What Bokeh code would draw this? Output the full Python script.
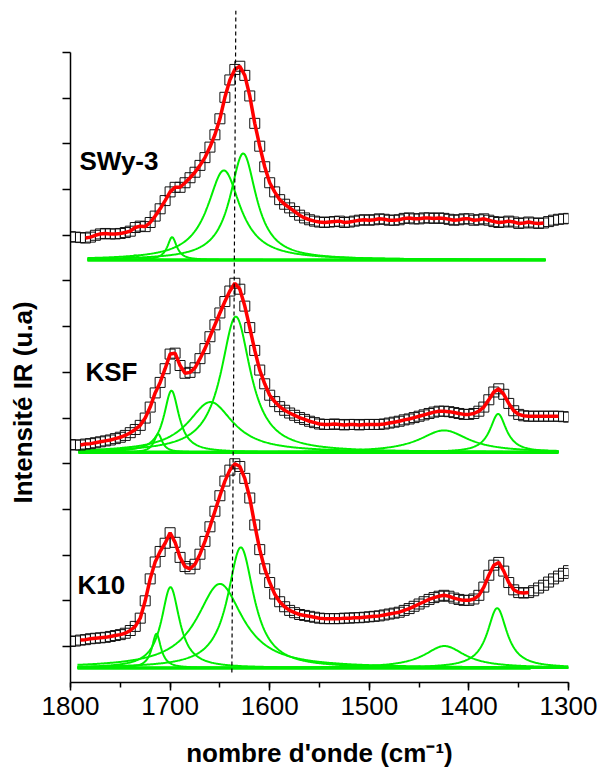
import numpy as np
from bokeh.plotting import figure
from bokeh.models import Range1d, SingleIntervalTicker, FixedTicker, Label, Title
from bokeh.embed import file_html
from bokeh.resources import INLINE

# ---------------- data ----------------
wavenumber = list(range(1800, 1295, -5))  # 1800 ... 1300 cm-1

swy3 = [8.97, 8.96, 8.95, 8.94, 8.96, 9.00, 9.03, 9.04, 9.03, 9.03,
        9.04, 9.06, 9.09, 9.17, 9.20, 9.19, 9.28, 9.42, 9.58, 9.76,
        9.95, 10.05, 10.05, 10.15, 10.26, 10.38, 10.53, 10.70, 10.93, 11.20,
        11.55, 12.02, 12.40, 12.63, 12.70, 12.50, 12.05, 11.45, 10.95, 10.50,
        10.15, 9.95, 9.78, 9.68, 9.60, 9.52, 9.44, 9.38, 9.34, 9.31,
        9.29, 9.28, 9.29, 9.30, 9.31, 9.28, 9.29, 9.31, 9.33, 9.34,
        9.33, 9.34, 9.36, 9.35, 9.33, 9.33, 9.34, 9.37, 9.38, 9.36,
        9.36, 9.38, 9.38, 9.37, 9.38, 9.37, 9.35, 9.33, 9.34, 9.36,
        9.36, 9.33, 9.34, 9.36, 9.33, 9.30, 9.28, 9.29, 9.31, 9.29,
        9.26, 9.27, 9.29, 9.27, 9.26, 9.27, 9.30, 9.33, 9.35, 9.36,
        9.37]

ksf = [4.42, 4.41, 4.41, 4.43, 4.44, 4.46, 4.48, 4.50, 4.52, 4.55,
       4.58, 4.62, 4.68, 4.75, 4.84, 5.00, 5.24, 5.55, 5.78, 6.08,
       6.40, 6.42, 6.15, 5.98, 6.00, 6.10, 6.30, 6.52, 6.78, 7.04,
       7.30, 7.55, 7.78, 7.95, 7.82, 7.45, 6.98, 6.48, 6.05, 5.75,
       5.50, 5.36, 5.25, 5.17, 5.11, 5.06, 5.01, 4.97, 4.93, 4.90,
       4.87, 4.86, 4.86, 4.87, 4.86, 4.85, 4.86, 4.86, 4.85, 4.86,
       4.86, 4.86, 4.86, 4.87, 4.89, 4.91, 4.93, 4.96, 4.98, 5.01,
       5.04, 5.07, 5.10, 5.13, 5.15, 5.15, 5.14, 5.12, 5.10, 5.08,
       5.08, 5.10, 5.15, 5.24, 5.40, 5.57, 5.64, 5.52, 5.32, 5.16,
       5.08, 5.05, 5.04, 5.04, 5.04, 5.04, 5.04, 5.04, 5.04, 5.03,
       5.02]

k10 = [0.11, 0.12, 0.14, 0.15, 0.17, 0.18, 0.19, 0.20, 0.22, 0.24,
       0.26, 0.29, 0.35, 0.44, 0.62, 1.00, 1.48, 1.85, 2.08, 2.26,
       2.49, 2.28, 1.95, 1.75, 1.70, 1.80, 2.02, 2.30, 2.62, 2.96,
       3.30, 3.62, 3.86, 4.00, 3.94, 3.68, 3.25, 2.66, 2.12, 1.70,
       1.40, 1.15, 0.98, 0.87, 0.79, 0.74, 0.70, 0.68, 0.66, 0.64,
       0.62, 0.61, 0.61, 0.61, 0.61, 0.62, 0.62, 0.63, 0.63, 0.64,
       0.65, 0.66, 0.67, 0.69, 0.71, 0.73, 0.75, 0.79, 0.83, 0.88,
       0.93, 0.98, 1.03, 1.07, 1.10, 1.12, 1.10, 1.06, 1.03, 1.01,
       1.01, 1.04, 1.12, 1.30, 1.56, 1.78, 1.84, 1.65, 1.40, 1.24,
       1.18, 1.17, 1.18, 1.22, 1.28, 1.34, 1.41, 1.48, 1.54, 1.60,
       1.66]

sample_names = ["SWy-3", "KSF", "K10"]

# fitted range of the red curve (cm-1)
fit_start = [1785, 1790, 1790]
fit_end = [1325, 1310, 1340]

# green components: baseline level, centres, amplitudes, half widths
comp_baseline = [8.46, 4.25, -0.47]
comp_centers = [[1626.6, 1646.0, 1698.0, 1735.0],
                [1634.0, 1659.4, 1698.6, 1712.0, 1425.0, 1370.6],
                [1629.0, 1650.0, 1699.6, 1713.7, 1424.5, 1371.6]]
comp_heights = [[2.33, 1.96, 0.50, 0.10],
                [2.97, 1.10, 1.35, 0.40, 0.48, 0.84],
                [2.64, 1.84, 1.77, 0.75, 0.48, 1.31]]
comp_hwhm = [[16, 20, 5.7, 4],
             [18, 27.6, 9.2, 5, 30, 10],
             [16, 28, 11, 5.5, 25, 12]]
comp_start = [1783, 1792, 1793]
comp_end = [1323, 1310, 1300]
base_end = [1323, 1310, 1338]

ref_line_x = [1634, 1638]

# ---------------- layout constants ----------------
Y_BOTTOM, Y_TOP = -0.788, 13.92
AXIS_TOP = 13.0
FONT = "Liberation Sans"
GREEN = "#00ee00"

p = figure(width=598, height=771,
           x_range=Range1d(1800, 1300), y_range=Range1d(Y_BOTTOM, Y_TOP),
           output_backend="svg", toolbar_location=None,
           min_border_left=70, min_border_right=30,
           min_border_top=10, min_border_bottom=89)
p.outline_line_color = None
p.xgrid.visible = False
p.ygrid.visible = False
p.background_fill_color = "white"
p.border_fill_color = "white"

# x axis
xa = p.xaxis[0]
xa.ticker = SingleIntervalTicker(interval=100, num_minor_ticks=2)
xa.axis_line_width = 1.5
xa.major_tick_line_width = 1.5
xa.minor_tick_line_width = 1.5
xa.major_tick_out = 8
xa.major_tick_in = 0
xa.minor_tick_out = 5
xa.minor_tick_in = 0
xa.major_label_text_font = FONT
xa.major_label_text_font_size = "26px"
xa.major_label_text_color = "black"
xa.major_label_standoff = 6
xa.axis_label = "nombre d'onde (cm⁻¹)"
xa.axis_label_text_font = FONT
xa.axis_label_text_font_size = "26px"
xa.axis_label_text_font_style = "bold"
xa.axis_label_text_color = "black"
xa.axis_label_standoff = 20

# y axis (no tick labels in the reference: blank labels keep the title's spacing)
ya = p.yaxis[0]
ya.ticker = FixedTicker(ticks=list(range(0, 14)), minor_ticks=[])
ya.bounds = (Y_BOTTOM, AXIS_TOP)
ya.axis_line_width = 1.5
ya.major_tick_line_width = 1.5
ya.major_tick_out = 8
ya.major_tick_in = 0
ya.major_label_overrides = {i: " " for i in range(0, 14)}
ya.major_label_text_font_size = "12px"
ya.major_label_text_color = "black"
ya.major_label_standoff = 12

p.add_layout(Title(text="Intensité IR (u.a)", align="left", offset=179,
                   vertical_align="top",
                   text_font=FONT, text_font_size="26px", text_font_style="bold",
                   text_color="black"), "left")

x = np.array(wavenumber, dtype=float)
series = [swy3, ksf, k10]

for i, ys in enumerate(series):
    ys = np.array(ys)
    # green components
    xs = np.linspace(comp_start[i], comp_end[i], 600)
    b = comp_baseline[i]
    p.line([comp_start[i], base_end[i]], [b, b], line_color=GREEN, line_width=3.5)
    for c, a, w in zip(comp_centers[i], comp_heights[i], comp_hwhm[i]):
        p.line(xs, b + a / (1 + ((xs - c) / w) ** 2), line_color=GREEN, line_width=2)
    # measured spectrum
    p.scatter(x, ys, marker="square", size=10, fill_alpha=0,
              line_color="#111111", line_width=1)
    # fit
    m = (x <= fit_start[i]) & (x >= fit_end[i])
    p.line(x[m], ys[m], line_color="#ff0000", line_width=3.5)

# vertical dashed reference line
p.line(ref_line_x, [Y_TOP, -0.6], line_color="black", line_width=1.2, line_dash="4 3")

# sample names
name_pos = [(1791, 10.63), (1785, 6.0), (1793, 1.35)]
for name, (lx, ly) in zip(sample_names, name_pos):
    p.add_layout(Label(x=lx, y=ly, text=name, text_font=FONT, text_font_size="26px",
                       text_font_style="bold", text_align="left", text_baseline="middle",
                       text_color="black"))

open("out.html", "w").write(file_html(p, INLINE))
